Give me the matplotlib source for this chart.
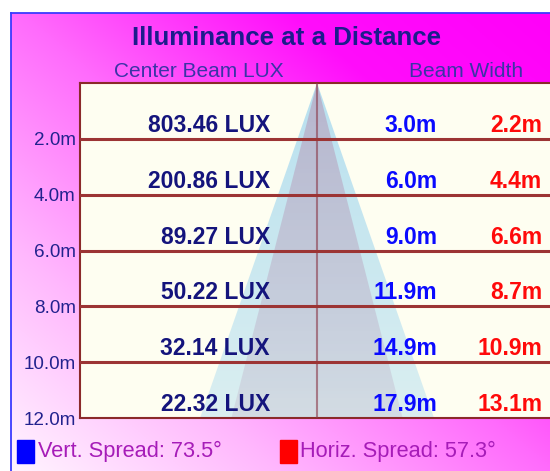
import numpy as np
import matplotlib
matplotlib.use("Agg")
import matplotlib.pyplot as plt
from matplotlib.patches import Polygon, Rectangle

# data
distances = [2, 4, 6, 8, 10, 12]
lux = [803.46, 200.86, 89.27, 50.22, 32.14, 22.32]
vert_width = [3.0, 6.0, 9.0, 11.9, 14.9, 17.9]
horiz_width = [2.2, 4.4, 6.6, 8.7, 10.9, 13.1]
vert_spread = 73.5
horiz_spread = 57.3

narrow = ['Liberation Sans', 'DejaVu Sans']
plain = ['Liberation Sans', 'DejaVu Sans']

fig = plt.figure(figsize=(5.5, 4.71), dpi=100)
fig.patch.set_facecolor('white')

# magenta -> white diagonal background inside the blue frame
bg = fig.add_axes([0.02, 0.0, 0.98, 0.9724], zorder=-2)
fx, fy = np.meshgrid(np.linspace(0.02, 1, 200), np.linspace(0.97, 0, 200))
s = 0.5 * ((1 - fx) + (1 - fy))
g = np.interp(s, [0, 0.25, 0.5, 0.75, 1.0], [0, 0.05, 0.42, 0.72, 0.97])
img = np.dstack([np.ones_like(g), g, np.ones_like(g) * 0.98 + 0.02 * g])
bg.imshow(img, extent=[0, 1, 0, 1], aspect='auto')
bg.set_xticks([])
bg.set_yticks([])
for side in ['right', 'bottom']:
    bg.spines[side].set_visible(False)
for side in ['left', 'top']:
    bg.spines[side].set_color('#3a3aff')
    bg.spines[side].set_linewidth(1.3)

# main panel
ax = fig.add_axes([0.1455, 0.1125, 0.8545, 0.7113], zorder=0)
ax.set_facecolor('#fefef1')

dmax = distances[-1]
for spread, rgb, a0, a1, z in [(vert_spread, (0.60, 0.83, 0.94), 0.7, 0.35, 1),
                               (horiz_spread, (0.72, 0.60, 0.72), 0.6, 0.22, 2)]:
    half = dmax * np.tan(np.radians(spread / 2))
    tri = Polygon([[0, 0], [-half, dmax], [half, dmax]], closed=True,
                  facecolor='none', edgecolor='none')
    ax.add_patch(tri)
    alpha = np.linspace(a0, a1, 100)[:, None] * np.ones((1, 10))
    grad = np.dstack([np.full_like(alpha, rgb[0]), np.full_like(alpha, rgb[1]),
                      np.full_like(alpha, rgb[2]), alpha])
    im = ax.imshow(grad, extent=[-half, half, dmax, 0], aspect='auto', zorder=z)
    im.set_clip_path(tri)

ax.axvline(0, color='#8b3a4a', alpha=0.6, lw=1.5, zorder=3)
for d in distances[:-1]:
    ax.axhline(d, color='#9c3434', lw=2.2, zorder=3)

ax.set_xlim(-18.15, 17.84)
ax.set_ylim(12, 0)
ax.set_xticks([])
ax.set_yticks(distances)
ax.set_yticklabels([f"{d:.1f}m" for d in distances], family=plain, fontsize=13.6,
                   va='center_baseline')
ax.tick_params(axis='y', length=0, pad=3, labelcolor='#22228e')
for side in ['left', 'top', 'bottom']:
    ax.spines[side].set_color('#8b2a2a')
    ax.spines[side].set_linewidth(1.5)
ax.spines['right'].set_visible(False)

tr = ax.get_yaxis_transform()
for d, lx, vw, hw in zip(distances, lux, vert_width, horiz_width):
    yb = d - 0.25
    ax.text(0.404, yb, f"{lx:.2f} LUX", transform=tr, ha='right', va='baseline',
            family=narrow, fontweight='bold', fontsize=16.5, color='#14147c', zorder=5)
    ax.text(0.7596, yb, f"{vw:.1f}m", transform=tr, ha='right', va='baseline',
            family=narrow, fontweight='bold', fontsize=16.5, color='#0a0aff', zorder=5)
    ax.text(0.983, yb, f"{hw:.1f}m", transform=tr, ha='right', va='baseline',
            family=narrow, fontweight='bold', fontsize=16.5, color='#ff0a0a', zorder=5)

# titles
fig.text(0.52, 0.9045, "Illuminance at a Distance", ha='center', va='baseline',
         family=narrow, fontweight='bold', fontsize=18.6, color='#1c1c8c')
fig.text(0.362, 0.8365, "Center Beam LUX", ha='center', va='baseline',
         family=narrow, fontsize=15.0, color='#3a34a6')
fig.text(0.848, 0.8365, "Beam Width", ha='center', va='baseline',
         family=narrow, fontsize=15.0, color='#3a34a6')

# legend
fig.patches.append(Rectangle((17 / 550, 1 - 463 / 471), 17 / 550, 23 / 471,
                             transform=fig.transFigure, color='#0000ff', zorder=4))
fig.patches.append(Rectangle((280 / 550, 1 - 463 / 471), 17 / 550, 23 / 471,
                             transform=fig.transFigure, color='#ff0000', zorder=4))
fig.text(38 / 550, 1 - 457 / 471, f"Vert. Spread: {vert_spread}°", ha='left', va='baseline',
         family=narrow, fontsize=15.7, color='#a61cb8')
fig.text(300 / 550, 1 - 457 / 471, f"Horiz. Spread: {horiz_spread}°", ha='left', va='baseline',
         family=narrow, fontsize=15.7, color='#a61cb8')

fig.savefig('out.png', dpi=100)
